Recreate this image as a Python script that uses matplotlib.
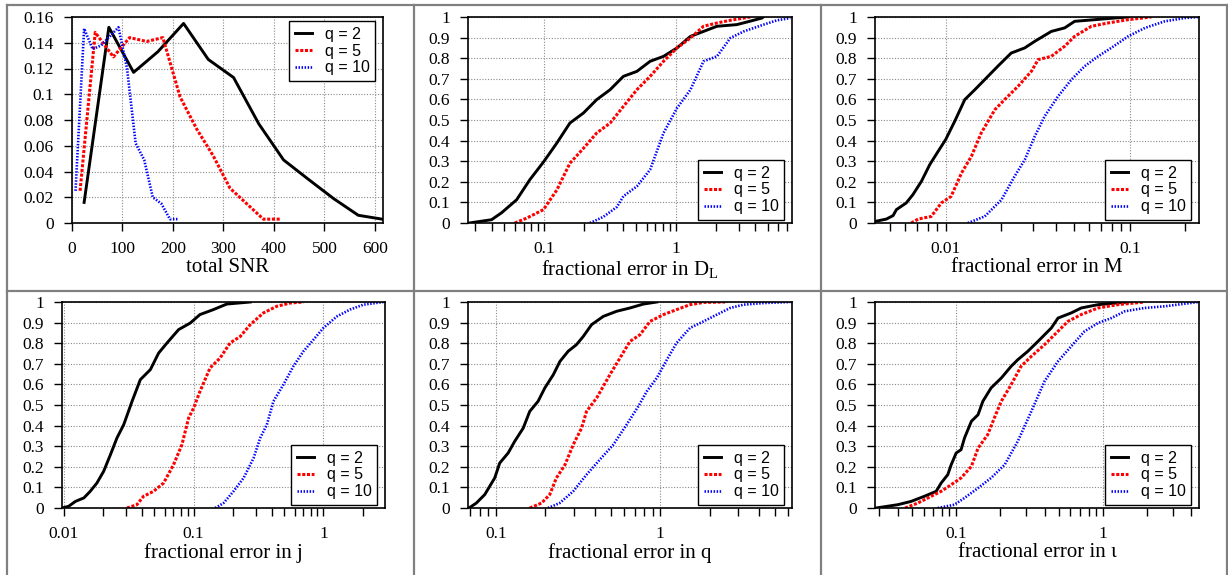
import numpy as np
import matplotlib
matplotlib.use("Agg")
import matplotlib.pyplot as plt
from matplotlib.lines import Line2D
from matplotlib.ticker import LogLocator, NullFormatter, FixedLocator, FixedFormatter

plt.rcParams['mathtext.default'] = 'regular'

# ---------------- data ----------------
labels = ["q = 2", "q = 5", "q = 10"]

# Panel 1: SNR distribution
snr_x_q2 = [24, 73, 122, 170, 221, 270, 320, 370, 419, 468, 518, 567, 614]
snr_y_q2 = [0.016, 0.152, 0.117, 0.133, 0.155, 0.127, 0.113, 0.077, 0.049, 0.034, 0.019, 0.006, 0.003]
snr_x_q5 = [16, 46, 82, 114, 148, 180, 214, 247, 280, 313, 346, 379, 412]
snr_y_q5 = [0.025, 0.148, 0.129, 0.144, 0.141, 0.144, 0.098, 0.073, 0.052, 0.027, 0.015, 0.003, 0.003]
snr_x_q10 = [7, 24, 41, 58, 75, 92, 109, 126, 143, 160, 177, 194, 211]
snr_y_q10 = [0.025, 0.151, 0.135, 0.138, 0.145, 0.152, 0.120, 0.062, 0.049, 0.020, 0.015, 0.003, 0.003]

# Panel 2: D_L cumulative
dl_x_q2 = [0.0271, 0.040, 0.0477, 0.062, 0.078, 0.099, 0.125, 0.157, 0.199, 0.251, 0.317, 0.40, 0.506, 0.638, 0.806, 1.02, 1.29, 1.62, 2.05, 2.9, 3.67, 4.5, 4.6]
dl_y_q2 = [0.0, 0.016, 0.05, 0.113, 0.21, 0.296, 0.388, 0.485, 0.534, 0.599, 0.647, 0.712, 0.736, 0.785, 0.809, 0.85, 0.906, 0.93, 0.955, 0.963, 0.98, 0.995, 1.0]
dl_x_q5 = [0.060, 0.074, 0.099, 0.125, 0.157, 0.20, 0.251, 0.317, 0.40, 0.506, 0.638, 0.806, 1.02, 1.29, 1.62, 2.05, 2.59, 3.67]
dl_y_q5 = [0.0, 0.024, 0.065, 0.16, 0.29, 0.364, 0.437, 0.485, 0.566, 0.647, 0.712, 0.785, 0.85, 0.898, 0.955, 0.971, 0.984, 1.0]
dl_x_q10 = [0.223, 0.282, 0.357, 0.40, 0.506, 0.638, 0.806, 1.02, 1.29, 1.62, 2.05, 2.59, 3.27, 4.63, 5.85, 7.38]
dl_y_q10 = [0.0, 0.03, 0.078, 0.13, 0.178, 0.259, 0.437, 0.558, 0.647, 0.785, 0.809, 0.898, 0.93, 0.963, 0.984, 0.995]

# Panel 3: M cumulative
m_x_q2 = [0.00415, 0.00476, 0.00518, 0.0054, 0.0061, 0.00664, 0.00738, 0.00819, 0.0091, 0.010, 0.0112, 0.0127, 0.0144, 0.0163, 0.0192, 0.0227, 0.0269, 0.0305, 0.0375, 0.0443, 0.0502, 0.0645, 0.0828, 0.098]
m_y_q2 = [0.008, 0.019, 0.036, 0.065, 0.097, 0.138, 0.202, 0.283, 0.348, 0.405, 0.494, 0.599, 0.647, 0.696, 0.761, 0.825, 0.85, 0.882, 0.93, 0.947, 0.979, 0.987, 0.995, 1.0]
m_x_q5 = [0.0065, 0.00708, 0.00835, 0.00946, 0.0107, 0.0122, 0.0138, 0.0156, 0.0185, 0.0209, 0.0247, 0.0292, 0.0318, 0.0375, 0.0443, 0.0502, 0.0619, 0.0762, 0.098, 0.131]
m_y_q5 = [0.0, 0.019, 0.032, 0.097, 0.129, 0.243, 0.324, 0.437, 0.55, 0.599, 0.663, 0.736, 0.793, 0.809, 0.858, 0.906, 0.955, 0.971, 0.987, 1.0]
m_x_q10 = [0.0132, 0.0163, 0.0201, 0.0237, 0.0269, 0.0305, 0.0345, 0.0408, 0.0482, 0.0569, 0.0673, 0.0794, 0.098, 0.121, 0.155, 0.199, 0.235]
m_y_q10 = [0.0, 0.032, 0.113, 0.227, 0.307, 0.421, 0.518, 0.615, 0.696, 0.761, 0.809, 0.85, 0.906, 0.947, 0.979, 0.995, 1.0]

# Panel 4: j cumulative
j_x_q2 = [0.0097, 0.0109, 0.0123, 0.0143, 0.016, 0.018, 0.0203, 0.0229, 0.0257, 0.029, 0.0336, 0.0389, 0.0465, 0.0538, 0.0624, 0.0767, 0.0943, 0.112, 0.142, 0.18, 0.273]
j_y_q2 = [0.0, 0.008, 0.032, 0.049, 0.081, 0.121, 0.178, 0.259, 0.34, 0.405, 0.518, 0.623, 0.672, 0.752, 0.801, 0.866, 0.898, 0.939, 0.963, 0.99, 1.0]
j_x_q5 = [0.0307, 0.0366, 0.0412, 0.0492, 0.0587, 0.0701, 0.0813, 0.0916, 0.100, 0.112, 0.134, 0.16, 0.191, 0.229, 0.273, 0.345, 0.437, 0.554, 0.702]
j_y_q5 = [0.0, 0.016, 0.057, 0.081, 0.121, 0.21, 0.307, 0.437, 0.485, 0.566, 0.68, 0.728, 0.801, 0.833, 0.89, 0.947, 0.979, 0.995, 1.0]
j_x_q10 = [0.147, 0.17, 0.203, 0.243, 0.29, 0.326, 0.367, 0.412, 0.492, 0.587, 0.702, 0.838, 1.0, 1.27, 1.6, 2.03, 2.9]
j_y_q10 = [0.0, 0.024, 0.081, 0.146, 0.243, 0.34, 0.405, 0.518, 0.599, 0.688, 0.761, 0.817, 0.874, 0.93, 0.963, 0.987, 1.0]

# Panel 5: q cumulative
q_x_q2 = [0.0688, 0.0762, 0.0857, 0.0986, 0.1057, 0.119, 0.1305, 0.147, 0.161, 0.181, 0.199, 0.224, 0.246, 0.276, 0.31, 0.341, 0.383, 0.451, 0.544, 0.656, 0.791, 0.955]
q_y_q2 = [0.0, 0.024, 0.065, 0.146, 0.218, 0.267, 0.324, 0.388, 0.469, 0.518, 0.583, 0.647, 0.712, 0.761, 0.793, 0.833, 0.89, 0.93, 0.955, 0.971, 0.99, 1.0]
q_x_q5 = [0.161, 0.19, 0.213, 0.234, 0.264, 0.296, 0.333, 0.357, 0.411, 0.495, 0.57, 0.656, 0.755, 0.869, 1.05, 1.26, 1.52, 1.84, 2.49]
q_y_q5 = [0.0, 0.024, 0.065, 0.146, 0.21, 0.307, 0.388, 0.469, 0.534, 0.647, 0.728, 0.809, 0.841, 0.906, 0.939, 0.963, 0.987, 0.998, 1.0]
q_x_q10 = [0.208, 0.245, 0.296, 0.357, 0.43, 0.519, 0.626, 0.738, 0.83, 0.955, 1.1, 1.26, 1.52, 1.84, 2.22, 2.67, 3.22, 4.27, 6.21]
q_y_q10 = [0.0, 0.024, 0.081, 0.162, 0.235, 0.307, 0.405, 0.494, 0.566, 0.631, 0.72, 0.801, 0.874, 0.906, 0.939, 0.971, 0.987, 0.995, 1.0]

# Panel 6: iota cumulative
t_x_q2 = [0.0285, 0.040, 0.0493, 0.0608, 0.0731, 0.079, 0.0877, 0.0925, 0.100, 0.108, 0.114, 0.127, 0.141, 0.152, 0.173, 0.203, 0.237, 0.263, 0.308, 0.361, 0.445, 0.494, 0.608, 0.711, 0.925, 1.48]
t_y_q2 = [0.0, 0.016, 0.032, 0.057, 0.081, 0.121, 0.162, 0.21, 0.267, 0.283, 0.34, 0.421, 0.453, 0.518, 0.583, 0.631, 0.688, 0.72, 0.761, 0.809, 0.874, 0.922, 0.947, 0.971, 0.987, 1.0]
t_x_q5 = [0.0449, 0.0548, 0.0676, 0.079, 0.0925, 0.108, 0.127, 0.141, 0.164, 0.182, 0.203, 0.237, 0.277, 0.325, 0.40, 0.494, 0.577, 0.711, 0.925, 1.26, 1.92]
t_y_q5 = [0.0, 0.024, 0.057, 0.081, 0.113, 0.146, 0.202, 0.291, 0.356, 0.437, 0.518, 0.599, 0.688, 0.736, 0.793, 0.858, 0.906, 0.939, 0.971, 0.987, 1.0]
t_x_q10 = [0.075, 0.0974, 0.114, 0.141, 0.173, 0.214, 0.263, 0.325, 0.40, 0.494, 0.608, 0.75, 0.925, 1.14, 1.41, 1.92, 2.63, 4.45]
t_y_q10 = [0.0, 0.016, 0.049, 0.097, 0.146, 0.21, 0.324, 0.469, 0.615, 0.712, 0.785, 0.858, 0.898, 0.922, 0.955, 0.971, 0.979, 1.0]

snr_ticks = [0, 100, 200, 300, 400, 500, 600]
snr_yticks = [0, 0.02, 0.04, 0.06, 0.08, 0.1, 0.12, 0.14, 0.16]
snr_yticklabels = ["0", "0.02", "0.04", "0.06", "0.08", "0.1", "0.12", "0.14", "0.16"]
cdf_yticks = [0, 0.1, 0.2, 0.3, 0.4, 0.5, 0.6, 0.7, 0.8, 0.9, 1.0]
cdf_yticklabels = ["0", "0.1", "0.2", "0.3", "0.4", "0.5", "0.6", "0.7", "0.8", "0.9", "1"]

# ---------------- styling ----------------
W, H = 1228, 575
fig = plt.figure(figsize=(W / 100, H / 100), dpi=100)
fig.patch.set_facecolor('white')

SERIF = ['Liberation Serif', 'DejaVu Serif']
SANS = ['Liberation Sans', 'DejaVu Sans']
colors = ['black', '#ff0000', '#0000ff']
styles = ['-', (0, (1.0, 0.55)), (0, (0.55, 0.6))]
widths = [2.1, 2.2, 1.9]
TICKSIZE = 12.5
LABELSIZE = 15
LEGSIZE = 11.5


def make_ax(x0, y0, x1, y1):
    return fig.add_axes([x0 / W, 1 - y1 / H, (x1 - x0) / W, (y1 - y0) / H])


def style_ax(ax):
    for s in ax.spines.values():
        s.set_linewidth(1.2)
        s.set_color('black')
    ax.tick_params(which='both', direction='out', length=6, width=1.0, pad=7,
                   top=False, right=False, labelsize=TICKSIZE)
    ax.grid(True, which='major', color='#8a8a8a', linestyle=(0, (1, 1.5)), linewidth=0.8)
    ax.set_axisbelow(True)
    for lab in ax.get_xticklabels() + ax.get_yticklabels():
        lab.set_fontfamily(SERIF)


def add_legend(ax, w_px, h_px, upper):
    if upper:
        kw = dict(loc='upper right', bbox_to_anchor=(1 - 8 / w_px, 1 - 4 / h_px))
    else:
        kw = dict(loc='lower right', bbox_to_anchor=(1 - 8 / w_px, 3 / h_px))
    leg = ax.legend(borderaxespad=0, prop={'family': SANS, 'size': LEGSIZE},
                    handlelength=1.05, handletextpad=0.8, borderpad=0.35,
                    labelspacing=0.12, fancybox=False, framealpha=1,
                    edgecolor='black', **kw)
    leg.get_frame().set_linewidth(1.0)
    return leg


# panel 1
ax1 = make_ax(72, 17, 383, 223)
for xs, ys, c, ls, lw, lab in zip([snr_x_q2, snr_x_q5, snr_x_q10], [snr_y_q2, snr_y_q5, snr_y_q10],
                                  colors, styles, widths, labels):
    ax1.plot(xs, ys, color=c, linestyle=ls, linewidth=lw, label=lab)
ax1.set_xlim(0, 616)
ax1.set_ylim(0, 0.16)
ax1.set_xticks(snr_ticks)
ax1.set_xticklabels([str(t) for t in snr_ticks])
ax1.set_yticks(snr_yticks)
ax1.set_yticklabels(snr_yticklabels)
style_ax(ax1)
ax1.set_xlabel("total SNR", fontfamily=SERIF, fontsize=LABELSIZE, labelpad=1)
add_legend(ax1, 311, 206, True)

panels = [
    ((468, 17, 792, 223), [dl_x_q2, dl_x_q5, dl_x_q10], [dl_y_q2, dl_y_q5, dl_y_q10],
     (0.0265, 7.6), [0.1, 1], ["0.1", "1"], "fractional error in $D_L$"),
    ((875, 17, 1199, 223), [m_x_q2, m_x_q5, m_x_q10], [m_y_q2, m_y_q5, m_y_q10],
     (0.00413, 0.238), [0.01, 0.1], ["0.01", "0.1"], "fractional error in M"),
    ((62, 302, 385, 508), [j_x_q2, j_x_q5, j_x_q10], [j_y_q2, j_y_q5, j_y_q10],
     (0.0097, 2.98), [0.01, 0.1, 1], ["0.01", "0.1", "1"], "fractional error in j"),
    ((468, 302, 792, 508), [q_x_q2, q_x_q5, q_x_q10], [q_y_q2, q_y_q5, q_y_q10],
     (0.0678, 6.35), [0.1, 1], ["0.1", "1"], "fractional error in q"),
    ((875, 302, 1199, 508), [t_x_q2, t_x_q5, t_x_q10], [t_y_q2, t_y_q5, t_y_q10],
     (0.028, 4.51), [0.1, 1], ["0.1", "1"], "fractional error in \u03b9"),
]

for box, xss, yss, xlim, xt, xtl, xlabel in panels:
    ax = make_ax(*box)
    for xs, ys, c, ls, lw, lab in zip(xss, yss, colors, styles, widths, labels):
        ax.plot(xs, ys, color=c, linestyle=ls, linewidth=lw, label=lab)
    ax.set_xscale('log')
    ax.set_xlim(*xlim)
    ax.set_ylim(0, 1)
    ax.xaxis.set_major_locator(FixedLocator(xt))
    ax.xaxis.set_major_formatter(FixedFormatter(xtl))
    ax.xaxis.set_minor_locator(LogLocator(base=10, subs=np.arange(2, 10), numticks=20))
    ax.xaxis.set_minor_formatter(NullFormatter())
    ax.set_yticks(cdf_yticks)
    ax.set_yticklabels(cdf_yticklabels)
    style_ax(ax)
    ax.set_xlabel(xlabel, fontfamily=SERIF, fontsize=LABELSIZE, labelpad=1)
    add_legend(ax, box[2] - box[0], box[3] - box[1], False)

# table borders
gray = '#808080'
def hline(y, x0=7, x1=1228):
    fig.add_artist(Line2D([x0 / W, x1 / W], [1 - y / H, 1 - y / H], color=gray, linewidth=1.6))
def vline(x, y0=5, y1=575):
    fig.add_artist(Line2D([x / W, x / W], [1 - y0 / H, 1 - y1 / H], color=gray, linewidth=1.6))

hline(5)
hline(291)
for xv in [7, 413.5, 820.5, 1226.5]:
    vline(xv)

fig.savefig("out.png", dpi=100, facecolor='white')
